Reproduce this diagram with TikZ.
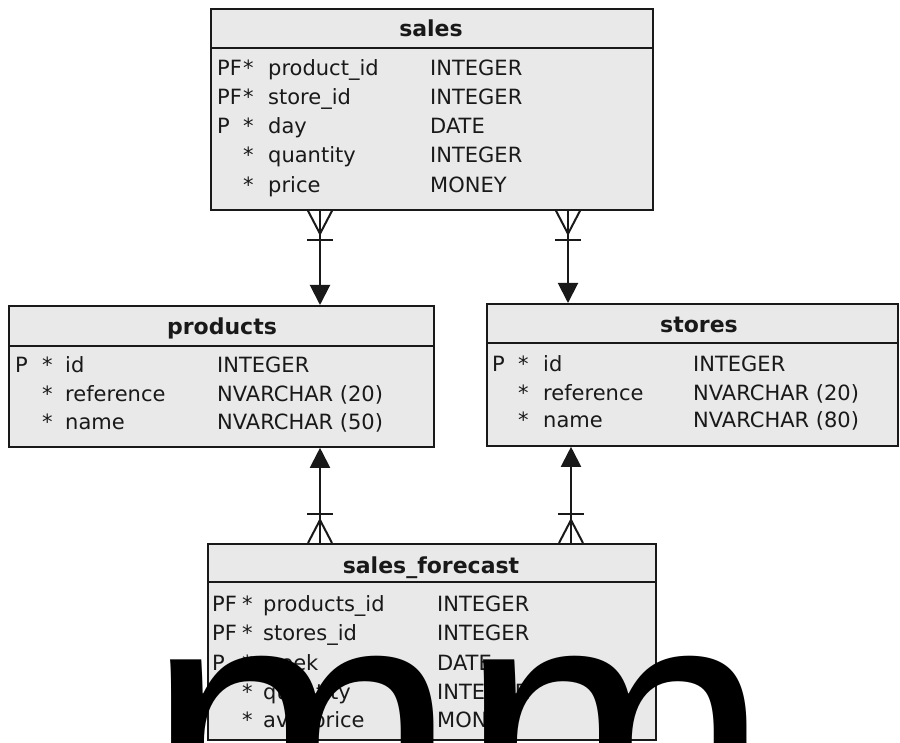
\documentclass[tikz,border=0pt]{standalone}
\usepackage{fontspec}
\setmainfont{DejaVu Sans}
\newfontfamily\bigfont{Liberation Sans}
\usetikzlibrary{arrows.meta}
\definecolor{tblfill}{RGB}{233,233,233}
\definecolor{ink}{RGB}{25,25,25}
\tikzset{
 tbl/.style={draw=ink, line width=1.8pt, fill=tblfill, inner sep=0pt, anchor=north west, rectangle},
 ttl/.style={font=\bfseries\fontsize{22}{26}\selectfont, anchor=base, inner sep=0pt, text=ink},
 cell/.style={font=\fontsize{21}{25}\selectfont, anchor=base west, inner sep=0pt, text=ink},
 conn/.style={draw=ink, line width=2pt, -{Triangle[width=20pt,length=20pt]}},
 foot/.style={draw=ink, line width=2pt},
 overlaytext/.style={anchor=base west, inner sep=0pt, font=\bigfont\fontsize{376}{376}\selectfont, text=black},
}
% #1 row id, #2 baseline y, #3 x key, #4 x star, #5 x name, #6 x type, #7 key, #8 name, #9 type
\newcommand\erow[9]{%
 \node[cell] (#1-k) at (#3,#2) {#7};
 \node[cell] (#1-s) at (#4,#2) {*};
 \node[cell] (#1-n) at (#5,#2) {#8};
 \node[cell] (#1-t) at (#6,#2) {#9};
}
% crow's foot "one-or-many": #1 point on table border, #2 direction (1 = downwards from box, -1 = upwards)
\newcommand\crowfoot[2]{%
 \draw[foot] ([shift={(-12,0)}]#1) -- ([shift={(0,23*#2)}]#1) -- ([shift={(12,0)}]#1);
 \draw[foot] ([shift={(-13,29*#2)}]#1) -- ([shift={(13,29*#2)}]#1);
}
\begin{document}
\begin{tikzpicture}[x=1pt,y=-1pt]
\fill[white] (0,0) rectangle (900,743);
\useasboundingbox (0,0) rectangle (900,743);

% ---------- sales ----------
\node[tbl, minimum width=442pt, minimum height=39pt] (sales-head) at (210,8) {};
\node[tbl, minimum width=442pt, minimum height=162pt] (sales-body) at (210,47) {};
\node[ttl] (sales-title) at (431,37) {sales};
\erow{sa1}{76}{217}{243}{268}{430}{PF}{product\_id}{INTEGER}
\erow{sa2}{105}{217}{243}{268}{430}{PF}{store\_id}{INTEGER}
\erow{sa3}{134}{217}{243}{268}{430}{P}{day}{DATE}
\erow{sa4}{163}{217}{243}{268}{430}{}{quantity}{INTEGER}
\erow{sa5}{193}{217}{243}{268}{430}{}{price}{MONEY}

% ---------- products ----------
\node[tbl, minimum width=425pt, minimum height=40pt] (products-head) at (8,305) {};
\node[tbl, minimum width=425pt, minimum height=101pt] (products-body) at (8,345) {};
\node[ttl] (products-title) at (222,335) {products};
\erow{pr1}{373}{15}{42}{65}{217}{P}{id}{INTEGER}
\erow{pr2}{401}{15}{42}{65}{217}{}{reference}{NVARCHAR (20)}
\erow{pr3}{429}{15}{42}{65}{217}{}{name}{NVARCHAR (50)}

% ---------- stores ----------
\node[tbl, minimum width=411pt, minimum height=39pt] (stores-head) at (486,303) {};
\node[tbl, minimum width=411pt, minimum height=103pt] (stores-body) at (486,342) {};
\node[ttl] (stores-title) at (699,333) {stores};
\erow{st1}{372}{492}{518}{543}{693}{P}{id}{INTEGER}
\erow{st2}{400}{492}{518}{543}{693}{}{reference}{NVARCHAR (20)}
\erow{st3}{427}{492}{518}{543}{693}{}{name}{NVARCHAR (80)}

% ---------- sales_forecast ----------
\node[tbl, minimum width=448pt, minimum height=38pt] (fc-head) at (207,543) {};
\node[tbl, minimum width=448pt, minimum height=158pt] (fc-body) at (207,581) {};
\node[ttl] (fc-title) at (431,573) {sales\_forecast};
\erow{fc1}{611}{212}{242}{263}{437}{PF}{products\_id}{INTEGER}
\erow{fc2}{640}{212}{242}{263}{437}{PF}{stores\_id}{INTEGER}
\erow{fc3}{670}{212}{242}{263}{437}{P}{week}{DATE}
\erow{fc4}{699}{212}{242}{263}{437}{}{quantity}{INTEGER}
\erow{fc5}{727}{212}{242}{263}{437}{}{avg\_price}{MONEY}

% ---------- connectors ----------
\coordinate (xa) at (320,0);
\coordinate (xb) at (568,0);
\coordinate (xc) at (571,0);

\coordinate (sp) at (sales-body.south -| xa);
\coordinate (ss) at (sales-body.south -| xb);
\coordinate (fp) at (fc-head.north -| xa);
\coordinate (fs) at (fc-head.north -| xc);

\draw[conn] (sp) -- (products-head.north -| sp);
\crowfoot{sp}{1}
\draw[conn] (ss) -- (stores-head.north -| ss);
\crowfoot{ss}{1}
\draw[conn] (fp) -- (products-body.south -| fp);
\crowfoot{fp}{-1}
\draw[conn] (fs) -- (stores-body.south -| fs);
\crowfoot{fs}{-1}

% ---------- large overlaid letters ----------
\node[overlaytext] (overlay) at (145,858) {mm};
\end{tikzpicture}
\end{document}
